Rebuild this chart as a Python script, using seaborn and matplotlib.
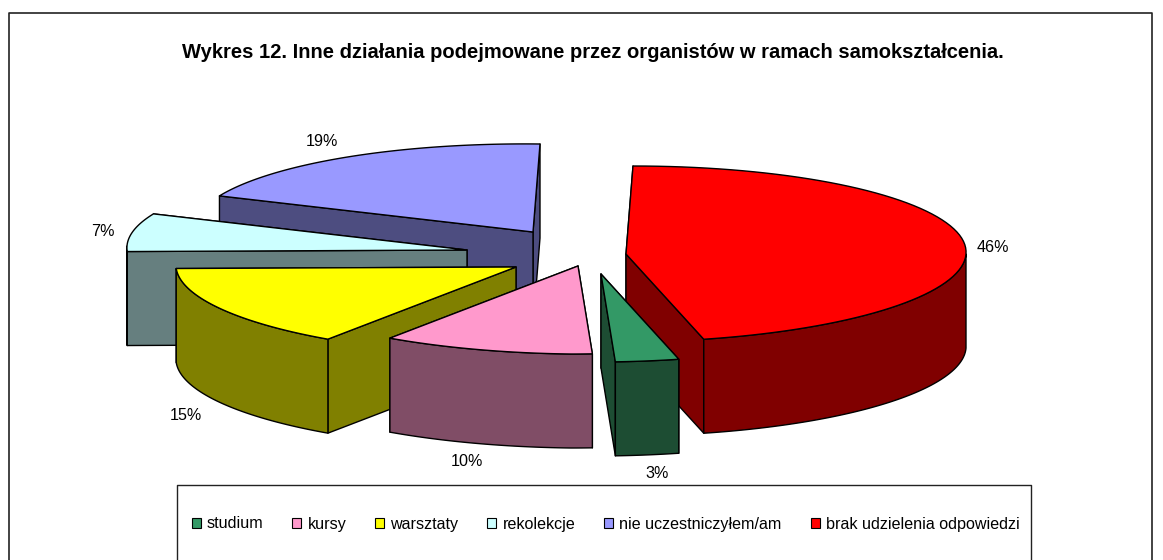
import numpy as np
import matplotlib
matplotlib.use("Agg")
import matplotlib.pyplot as plt
from matplotlib.patches import Patch, Polygon
import seaborn as sns

# Data, clockwise from the top of the pie
categories = ["brak udzielenia odpowiedzi", "studium", "kursy", "warsztaty",
              "rekolekcje", "nie uczestniczyłem/am"]
shares = [46, 3, 10, 15, 7, 19]
legend_order = ["studium", "kursy", "warsztaty", "rekolekcje",
                "nie uczestniczyłem/am", "brak udzielenia odpowiedzi"]

top_colors = ["#ff0000", "#339966", "#ff99cc", "#ffff00", "#ccffff", "#9999ff"]
side_colors = ["#800000", "#1d4d33", "#804d66", "#808000", "#667f7f", "#4d4d80"]

# Layout in image pixels
apex_x = [626, 601, 578, 516, 467, 533]
apex_y = [254, 274, 266, 267, 250, 232]
label_x = [993, 657, 467, 186, 103, 322]
label_y = [247, 473, 461, 415, 231, 141]
draw_order = [5, 4, 3, 2, 0, 1]  # back to front
RX, RY, DEPTH = 340, 88, 94
SHEAR_X, TILT_Y = 7, 4  # the pie is not a clean ellipse in the original

sns.set_theme(style="white")
plt.rcParams["font.family"] = ["Liberation Sans", "DejaVu Sans"]

fig = plt.figure(figsize=(11.63, 5.60), dpi=100)
ax = fig.add_axes([0, 0, 1, 1])
ax.set_xlim(0, 1163)
ax.set_ylim(560, 0)
ax.axis("off")


def arc(cx, cy, t0, t1):
    t = np.radians(np.linspace(t0, t1, 80))
    x = cx + RX * np.sin(t) + SHEAR_X * np.cos(t)
    y = cy - RY * np.cos(t) + TILT_Y * np.minimum(np.sin(t), 0)
    return np.column_stack([x, y])


def face(pts, color, z):
    ax.add_patch(Polygon(pts, closed=True, facecolor=color, edgecolor="black",
                         linewidth=1.0, joinstyle="round", zorder=z))


# Outer frame and legend box run off the bottom of the picture
ax.plot([9, 9, 1152, 1152], [570, 13, 13, 570], color="#222222", lw=1.2, zorder=1)
ax.plot([177, 177, 1031, 1031], [570, 485, 485, 570], color="#222222", lw=1.0, zorder=1)

ax.text(593, 52, "Wykres 12. Inne działania podejmowane przez organistów w ramach samokształcenia.",
        ha="center", va="center", fontsize=14.5, fontweight="bold", color="black")

edges = np.cumsum([0] + shares) * 3.6
down = np.array([0, DEPTH])
for i in draw_order:
    t0, t1 = edges[i], edges[i + 1]
    cx, cy = apex_x[i], apex_y[i]
    z = 5 + draw_order.index(i)
    centre = np.array([cx, cy])
    outline = arc(cx, cy, t0, t1)
    # the cut face further back goes first so the nearer one hides its edges
    for p in sorted((outline[0], outline[-1]), key=lambda q: q[1]):
        face([centre, p, p + down, centre + down], side_colors[i], z)
    lo, hi = max(t0, 90), min(t1, 270)
    if lo < hi:
        rim = arc(cx, cy, lo, hi)
        face(np.vstack([rim, (rim + down)[::-1]]), side_colors[i], z)
    face(np.vstack([centre, outline]), top_colors[i], z)
    ax.text(label_x[i], label_y[i], f"{shares[i]}%", ha="center", va="center",
            fontsize=11.6, color="black", zorder=30)

handles = [Patch(facecolor=top_colors[categories.index(c)], edgecolor="black",
                 linewidth=0.8, label=c) for c in legend_order]
ax.legend(handles=handles, loc="center", bbox_to_anchor=(605.5, 524),
          bbox_transform=ax.transData, ncol=6, frameon=False, fontsize=11.6,
          handlelength=0.56, handleheight=0.6, handletextpad=0.37, columnspacing=1.8,
          labelcolor="black")

fig.savefig("out.png", dpi=100, facecolor="white")
